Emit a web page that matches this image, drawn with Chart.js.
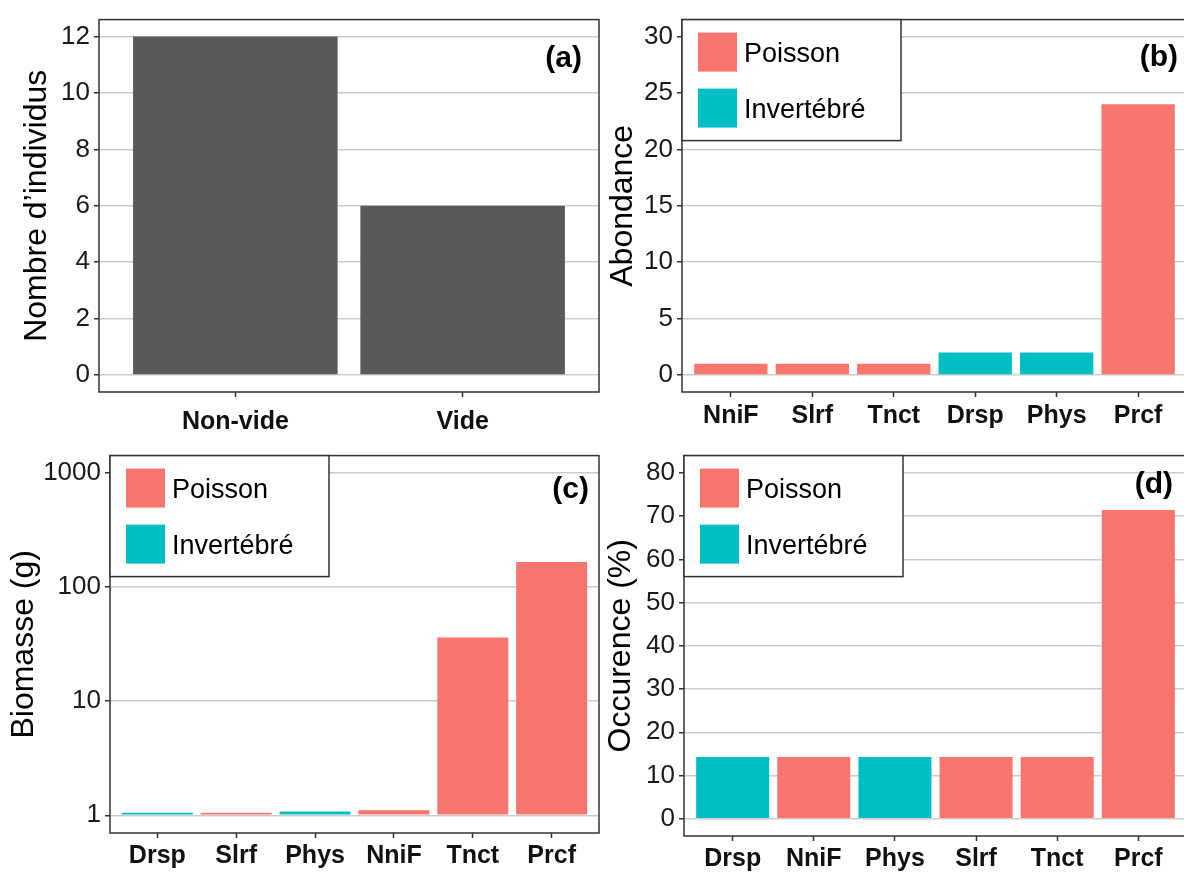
<!DOCTYPE html>
<html>
<head>
<meta charset="utf-8">
<script src="https://cdn.jsdelivr.net/npm/chart.js@4.4.1/dist/chart.umd.min.js"></script>
<style>
  html, body { margin: 0; padding: 0; background: #fff; overflow: hidden; width: 1184px; height: 872px; }
  canvas { position: absolute; }
</style>
</head>
<body>
<canvas id="panelA" width="600" height="436" style="left:0;top:0"></canvas>
<canvas id="panelB" width="590" height="436" style="left:600px;top:0"></canvas>
<canvas id="panelC" width="600" height="436" style="left:0;top:436px"></canvas>
<canvas id="panelD" width="590" height="436" style="left:600px;top:436px"></canvas>
<script>
// ── Data ────────────────────────────────────────────────
const catsA = ['Non-vide', 'Vide'];
const valsA = [12, 6];
const ticksA = [0, 2, 4, 6, 8, 10, 12];

const catsB = ['NniF', 'Slrf', 'Tnct', 'Drsp', 'Phys', 'Prcf'];
const groupB = ['Poisson', 'Poisson', 'Poisson', 'Invertébré', 'Invertébré', 'Poisson'];
const valsB = [1, 1, 1, 2, 2, 24];
const ticksB = [0, 5, 10, 15, 20, 25, 30];

const catsC = ['Drsp', 'Slrf', 'Phys', 'NniF', 'Tnct', 'Prcf'];
const groupC = ['Invertébré', 'Poisson', 'Invertébré', 'Poisson', 'Poisson', 'Poisson'];
const valsC = [1.055, 1.055, 1.08, 1.11, 36, 165];
const ticksC = [1, 10, 100, 1000];

const catsD = ['Drsp', 'NniF', 'Phys', 'Slrf', 'Tnct', 'Prcf'];
const groupD = ['Invertébré', 'Poisson', 'Invertébré', 'Poisson', 'Poisson', 'Poisson'];
const valsD = [14.29, 14.29, 14.29, 14.29, 14.29, 71.43];
const ticksD = [0, 10, 20, 30, 40, 50, 60, 70, 80];

const groups = ['Poisson', 'Invertébré'];
const groupColors = { 'Poisson': '#F8766D', 'Invertébré': '#00BFC4' };
const FONT = '"Liberation Sans", Arial, Helvetica, sans-serif';

Chart.defaults.font.family = FONT;
Chart.defaults.color = '#1a1a1a';

// one dataset per group, bars sit on their own x index (grouped: false)
function groupDatasets(vals, grp, extra) {
  return groups.map(g => ({
    label: g,
    data: vals.map((v, i) => grp[i] === g ? { x: i, y: v } : null).filter(Boolean),
    backgroundColor: groupColors[g],
    ...extra
  }));
}

// ── Frame, panel letter, boxed legend (ggplot style) ───
const panelDecor = {
  id: 'panelDecor',
  afterDraw(chart, args, o) {
    const { ctx, chartArea: a } = chart;
    ctx.save();
    ctx.strokeStyle = '#333';
    ctx.lineWidth = 1.5;
    ctx.strokeRect(a.left, a.top, a.right - a.left, a.bottom - a.top);

    ctx.fillStyle = '#000';
    ctx.font = `bold 30px ${FONT}`;
    ctx.textAlign = 'right';
    ctx.textBaseline = 'alphabetic';
    ctx.fillText(o.label, a.right - o.labelDx, a.top + o.labelDy);

    if (o.legend) {
      const x = a.left, y = a.top, w = 219, h = 121;
      ctx.fillStyle = '#fff';
      ctx.fillRect(x, y, w, h);
      ctx.strokeRect(x, y, w, h);
      ctx.font = `27px ${FONT}`;
      ctx.textAlign = 'left';
      chart.data.datasets.forEach((d, i) => {
        const ky = y + 13 + i * 56;
        ctx.fillStyle = d.backgroundColor;
        ctx.fillRect(x + 16, ky, 39, 39);
        ctx.fillStyle = '#000';
        ctx.fillText(d.label, x + 62, ky + 29);
      });
    }
    ctx.restore();
  }
};

function makePanel(id, p) {
  const canvas = document.getElementById(id);
  const W = canvas.width, H = canvas.height;
  return new Chart(canvas, {
    type: 'bar',
    data: { datasets: p.datasets },
    options: {
      responsive: false, animation: false, devicePixelRatio: 1,
      layout: { padding: { left: 0, top: p.area.top, right: W - p.area.right, bottom: 0 } },
      datasets: { bar: { grouped: false, barPercentage: 0.9, categoryPercentage: 1, borderWidth: 0 } },
      scales: {
        x: {
          type: 'linear', offset: false, min: -0.6, max: p.cats.length - 0.4,
          afterBuildTicks: s => { s.ticks = p.cats.map((c, i) => ({ value: i })); },
          afterFit: s => { s.height = H - p.area.bottom; },
          grid: { offset: false, drawOnChartArea: false, tickLength: 5, tickColor: '#333', tickWidth: 1.5 },
          border: { display: false },
          ticks: {
            callback: v => p.cats[v], autoSkip: false, maxRotation: 0,
            font: { size: 25, weight: 'bold' }, color: '#111', padding: p.xPad
          }
        },
        y: {
          type: p.yType, min: p.yMin, max: p.yMax,
          afterBuildTicks: s => { s.ticks = p.yTicks.map(v => ({ value: v })); },
          afterFit: s => { s.width = p.area.left; },
          grid: { color: '#cccccc', lineWidth: 1.5, tickLength: 5, tickColor: '#333', tickWidth: 1.5 },
          border: { display: false },
          ticks: { callback: v => String(v), font: { size: 26 }, color: '#1a1a1a', padding: 4 },
          title: {
            display: true, text: p.yTitle, color: '#000',
            font: { size: 32, lineHeight: 1 }, padding: { top: p.titlePad, bottom: 0 }
          }
        }
      },
      plugins: {
        legend: { display: false }, tooltip: { enabled: false },
        panelDecor: { label: p.label, labelDx: p.labelDx, labelDy: p.labelDy, legend: p.legend }
      }
    },
    plugins: [panelDecor]
  });
}

// (a) stomach contents
makePanel('panelA', {
  cats: catsA,
  datasets: [{ label: 'Individus', data: valsA.map((v, i) => ({ x: i, y: v })), backgroundColor: '#595959' }],
  yType: 'linear', yMin: -0.6, yMax: 12.6, yTicks: ticksA,
  yTitle: 'Nombre d\u2019individus', titlePad: 21,
  area: { left: 99, top: 10, right: 599, bottom: 392 }, xPad: 10,
  label: '(a)', labelDx: 17, labelDy: 47, legend: false
});

// (b) abundance
makePanel('panelB', {
  cats: catsB,
  datasets: groupDatasets(valsB, groupB, {}),
  yType: 'linear', yMin: -1.5, yMax: 31.5, yTicks: ticksB,
  yTitle: 'Abondance', titlePad: 7,
  area: { left: 82, top: 10, right: 587, bottom: 392 }, xPad: 4,
  label: '(b)', labelDx: 9, labelDy: 46, legend: true
});

// (c) biomass, log10 axis, bars start at 1
makePanel('panelC', {
  cats: catsC,
  datasets: groupDatasets(valsC, groupC, { base: 1 }),
  yType: 'logarithmic', yMin: Math.pow(10, -0.15), yMax: Math.pow(10, 3.15), yTicks: ticksC,
  yTitle: 'Biomasse (g)', titlePad: 8,
  area: { left: 110, top: 19, right: 599, bottom: 397 }, xPad: 3,
  label: '(c)', labelDx: 10, labelDy: 42, legend: true
});

// (d) occurrence
makePanel('panelD', {
  cats: catsD,
  datasets: groupDatasets(valsD, groupD, {}),
  yType: 'linear', yMin: -4, yMax: 84, yTicks: ticksD,
  yTitle: 'Occurence (%)', titlePad: 5,
  area: { left: 84, top: 19, right: 587, bottom: 400 }, xPad: 3,
  label: '(d)', labelDx: 14, labelDy: 37, legend: true
});
</script>
</body>
</html>
